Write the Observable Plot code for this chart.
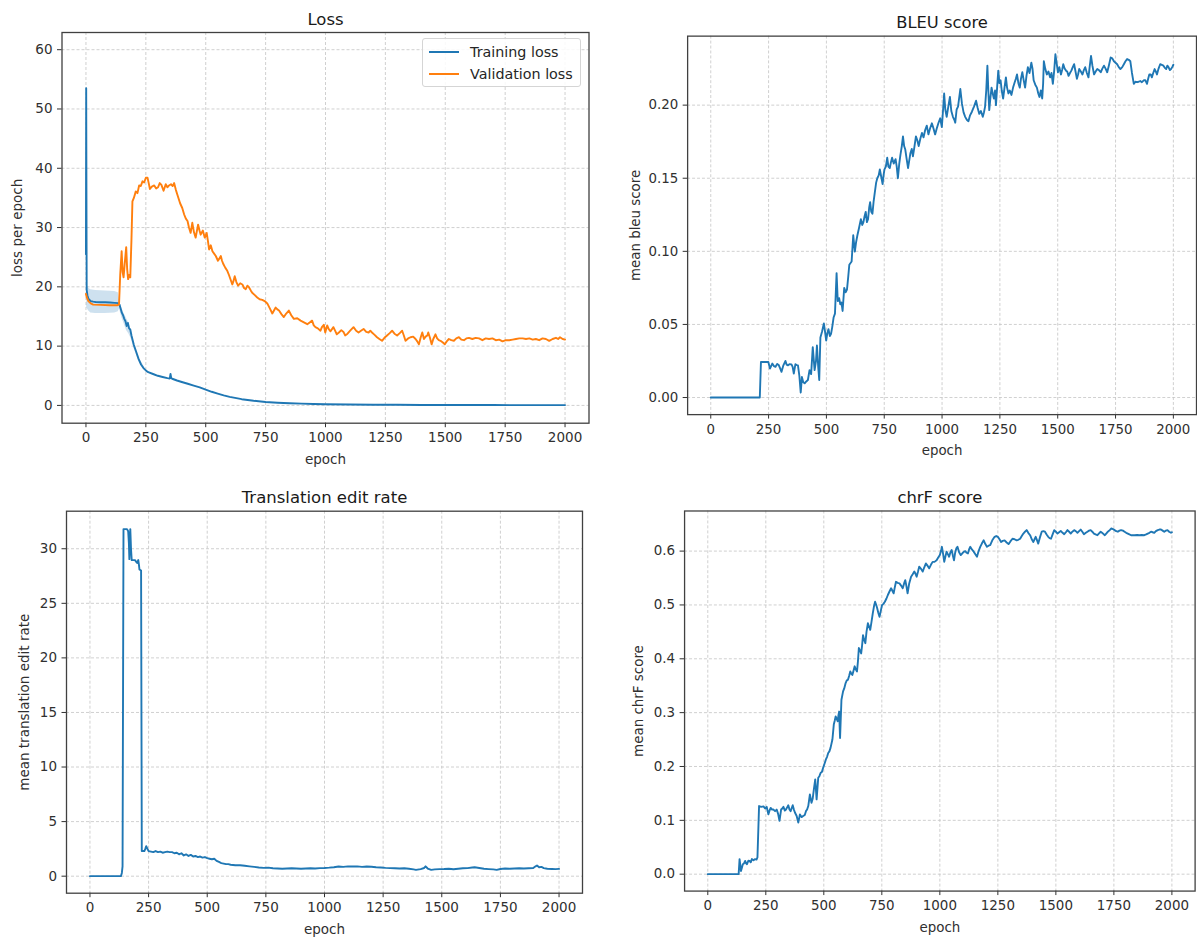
<!DOCTYPE html>
<html>
<head>
<meta charset="utf-8">
<script src="https://cdn.jsdelivr.net/npm/d3@7"></script>
<script src="https://cdn.jsdelivr.net/npm/@observablehq/plot@0.6"></script>
<style>
  body { margin: 0; background: #fff; }
  #chart { position: relative; width: 1197px; height: 938px; overflow: hidden; background: #fff; font-family: "DejaVu Sans", sans-serif; }
  .cell { position: absolute; overflow: hidden; }
  .legend { position: absolute; left: 422px; top: 38px; width: 159px; height: 49px; box-sizing: border-box;
            border: 1px solid #d5d5d5; border-radius: 3px; background: rgba(255,255,255,0.85); font-size: 14.3px; color: #262626; }
  .legend .row { position: absolute; left: 6px; height: 20px; display: flex; align-items: center; }
  .legend .sw { width: 30px; height: 0; border-top: 2px solid; margin-right: 11px; }
</style>
</head>
<body>
<div id="chart"></div>
<script>
// ---------------- data ----------------
const epochTicks = [0, 250, 500, 750, 1000, 1250, 1500, 1750, 2000];
const lossTicks = [0, 10, 20, 30, 40, 50, 60];
const bleuTicks = [0, 0.05, 0.10, 0.15, 0.20];
const terTicks = [0, 5, 10, 15, 20, 25, 30];
const chrfTicks = [0, 0.1, 0.2, 0.3, 0.4, 0.5, 0.6];

const panelTitles = ["Loss", "BLEU score", "Translation edit rate", "chrF score"];
const yLabels = ["loss per epoch", "mean bleu score", "mean translation edit rate", "mean chrF score"];
const xLabel = "epoch";
const seriesNames = ["Training loss", "Validation loss"];

// [epoch, loss]
const trainingLoss = [[0,25.5],[1,53.5],[3,19.5],[6,18.6],[10,18.0],[15,17.8],[20,17.6],[30,17.5],[40,17.45],[60,17.4],[80,17.4],[100,17.35],[120,17.3],[135,17.25],[140,17.0],[145,16.3],[150,15.6],[155,15.2],[160,14.6],[165,14.2],[170,13.4],[175,13.9],[180,13.0],[185,12.8],[190,11.8],[195,11.0],[200,10.2],[210,9.0],[220,7.8],[230,6.9],[240,6.3],[250,5.9],[260,5.6],[280,5.3],[300,5.0],[320,4.8],[340,4.6],[350,4.55],[353,5.3],[356,4.6],[360,4.5],[380,4.2],[400,3.95],[425,3.65],[450,3.35],[475,3.05],[500,2.65],[525,2.3],[550,2.0],[575,1.7],[600,1.45],[650,1.05],[700,0.78],[750,0.58],[800,0.45],[850,0.36],[900,0.3],[950,0.25],[1000,0.2],[1100,0.15],[1200,0.12],[1300,0.1],[1400,0.08],[1500,0.07],[1600,0.06],[1700,0.06],[1800,0.05],[1900,0.05],[2000,0.05]];
// [epoch, low, high] spread of the training loss
const trainingBand = [[3,16.5,20.5],[10,16.0,19.8],[20,15.6,19.5],[40,15.5,19.4],[80,15.5,19.3],[120,15.6,19.2],[135,15.8,19.0],[140,16.3,17.6],[150,14.8,16.4],[160,13.7,15.4],[170,12.6,14.6],[180,12.0,13.8],[190,11.1,12.4],[200,9.7,10.6],[220,7.5,8.1],[250,5.7,6.1]];
const validationLoss = [[0,18.8],[3,18.3],[10,17.6],[20,17.2],[30,17.0],[60,16.95],[100,16.9],[130,16.9],[138,17.0],[143,22],[149,26],[153,22.5],[157,21.6],[162,24],[168,26.7],[172,23],[176,21.3],[181,22],[185,21.6],[190,28],[194,34.4],[200,35],[208,36.1],[215,35.8],[222,37.1],[229,37.0],[236,37.8],[243,37.6],[250,38.4],[257,38.4],[262,37.5],[267,36.5],[275,36.9],[285,37.1],[293,36.6],[301,36.8],[308,37.5],[315,37.2],[324,36.2],[333,37.3],[340,36.8],[347,37.1],[355,37.3],[362,37.0],[368,37.5],[375,36.4],[382,35.5],[393,34.1],[402,33.3],[410,32.2],[417,31.5],[424,31.1],[430,30.0],[437,29.1],[444,30.8],[451,29.2],[458,28.3],[468,30.5],[474,29.5],[479,28.8],[488,29.5],[496,28.3],[504,29.1],[509,27.8],[514,26.3],[521,27.0],[528,26.0],[535,25.6],[542,25.2],[551,24.4],[557,24.8],[563,25.2],[568,24.4],[574,23.8],[582,23.2],[590,22.7],[597,22.0],[604,21.2],[611,20.4],[616,21.0],[621,21.8],[628,20.8],[635,20.2],[644,20.6],[653,20.4],[660,19.8],[667,19.6],[674,20.2],[681,19.9],[688,19.4],[694,19.0],[705,18.6],[715,18.2],[725,17.9],[736,17.8],[746,17.6],[757,17.2],[767,16.4],[778,15.5],[785,16.0],[792,16.5],[799,16.2],[806,16.0],[816,15.4],[826,14.9],[836,15.5],[847,16.0],[857,15.2],[868,14.6],[882,14.7],[896,14.3],[910,14.0],[924,13.7],[934,14.0],[944,14.3],[951,13.5],[958,13.2],[968,13.0],[979,12.6],[985,13.2],[993,13.6],[999,12.3],[1007,13.5],[1013,12.9],[1021,12.5],[1033,13.2],[1040,12.6],[1047,12.0],[1056,12.3],[1066,12.7],[1075,12.4],[1082,11.8],[1092,12.1],[1103,12.6],[1110,12.9],[1117,13.2],[1128,12.6],[1138,12.3],[1148,12.6],[1159,12.9],[1170,12.4],[1180,12.3],[1187,12.6],[1194,12.3],[1205,11.9],[1215,11.5],[1225,11.2],[1236,10.9],[1246,11.4],[1257,11.8],[1268,12.2],[1278,12.6],[1288,12.1],[1299,11.8],[1310,12.2],[1320,12.6],[1327,11.8],[1334,10.9],[1345,11.3],[1355,11.5],[1366,11.6],[1376,11.2],[1383,10.8],[1390,10.3],[1397,11.4],[1404,12.3],[1411,11.2],[1418,11.6],[1425,11.8],[1429,12.3],[1436,11.4],[1443,10.3],[1450,11.2],[1459,12.0],[1466,11.3],[1473,11.0],[1480,10.9],[1490,10.6],[1498,10.3],[1506,10.8],[1515,11.2],[1525,11.0],[1536,10.9],[1546,11.3],[1557,11.5],[1567,11.1],[1578,11.0],[1588,11.3],[1599,11.4],[1613,11.2],[1627,11.4],[1641,11.3],[1655,11.0],[1669,11.3],[1683,11.2],[1697,11.3],[1711,11.0],[1725,11.1],[1739,10.8],[1753,11.0],[1767,11.0],[1781,11.1],[1795,11.2],[1809,11.3],[1823,11.3],[1837,11.2],[1851,11.3],[1865,11.1],[1878,11.2],[1892,11.0],[1906,11.3],[1920,11.2],[1934,10.9],[1948,11.2],[1962,11.4],[1971,11.2],[1979,11.5],[1990,11.2],[2000,11.1]];

// [epoch, mean BLEU]
const bleu = [[0,0],[212,0],[217,0.0243],[249,0.0243],[256,0.0198],[266,0.0232],[273,0.0215],[280,0.021],[287,0.023],[294,0.0222],[300,0.02],[306,0.0176],[314,0.022],[323,0.025],[328,0.0225],[334,0.022],[340,0.0228],[349,0.0227],[354,0.021],[359,0.0164],[366,0.0228],[372,0.0222],[377,0.022],[383,0.015],[389,0.0034],[394,0.014],[400,0.0105],[406,0.0097],[413,0.011],[420,0.012],[427,0.0187],[434,0.016],[441,0.0345],[449,0.0187],[455,0.025],[459,0.0356],[465,0.02],[469,0.012],[474,0.041],[481,0.045],[489,0.0507],[494,0.045],[499,0.039],[504,0.044],[509,0.0468],[515,0.042],[520,0.0435],[525,0.048],[531,0.0547],[537,0.0574],[544,0.0851],[549,0.066],[555,0.068],[560,0.0637],[565,0.065],[570,0.0592],[577,0.075],[583,0.072],[589,0.0739],[594,0.082],[599,0.0908],[609,0.093],[616,0.111],[623,0.0998],[628,0.106],[634,0.111],[641,0.116],[649,0.122],[655,0.118],[660,0.12],[665,0.124],[670,0.127],[675,0.12],[680,0.122],[685,0.13],[689,0.1336],[694,0.127],[699,0.1257],[704,0.134],[709,0.14],[715,0.147],[720,0.15],[726,0.152],[731,0.156],[737,0.151],[743,0.146],[747,0.152],[751,0.156],[757,0.158],[763,0.164],[768,0.158],[774,0.157],[779,0.161],[784,0.164],[791,0.16],[799,0.163],[804,0.158],[809,0.150],[815,0.16],[820,0.166],[826,0.172],[831,0.1786],[836,0.172],[841,0.1696],[847,0.163],[853,0.157],[858,0.162],[863,0.167],[869,0.17],[874,0.165],[880,0.171],[887,0.1786],[893,0.176],[899,0.172],[906,0.177],[913,0.181],[920,0.178],[927,0.183],[934,0.186],[941,0.18],[948,0.184],[956,0.1876],[963,0.184],[970,0.18],[977,0.184],[984,0.1876],[992,0.191],[999,0.185],[1004,0.196],[1009,0.208],[1014,0.197],[1020,0.192],[1027,0.199],[1034,0.2056],[1040,0.196],[1047,0.192],[1053,0.19],[1057,0.188],[1063,0.197],[1069,0.199],[1074,0.205],[1079,0.211],[1086,0.201],[1093,0.195],[1100,0.192],[1107,0.19],[1114,0.189],[1121,0.193],[1129,0.1955],[1138,0.199],[1147,0.203],[1154,0.198],[1161,0.194],[1168,0.196],[1176,0.192],[1181,0.195],[1186,0.199],[1191,0.21],[1196,0.227],[1200,0.21],[1204,0.1966],[1209,0.205],[1214,0.212],[1219,0.208],[1224,0.2045],[1229,0.21],[1233,0.20],[1238,0.212],[1243,0.2236],[1248,0.215],[1253,0.217],[1258,0.21],[1264,0.2045],[1270,0.212],[1276,0.219],[1281,0.212],[1287,0.208],[1293,0.21],[1300,0.207],[1307,0.212],[1314,0.2157],[1319,0.218],[1324,0.221],[1330,0.215],[1336,0.212],[1341,0.218],[1347,0.2225],[1353,0.217],[1359,0.212],[1365,0.22],[1371,0.226],[1378,0.222],[1386,0.229],[1391,0.225],[1396,0.217],[1403,0.214],[1410,0.212],[1416,0.208],[1421,0.2056],[1427,0.21],[1433,0.2045],[1437,0.215],[1440,0.230],[1446,0.225],[1453,0.221],[1460,0.223],[1467,0.219],[1473,0.222],[1479,0.2146],[1485,0.224],[1490,0.2348],[1496,0.228],[1501,0.2225],[1507,0.226],[1514,0.221],[1519,0.224],[1524,0.228],[1530,0.225],[1536,0.2236],[1541,0.223],[1547,0.220],[1553,0.222],[1559,0.2236],[1565,0.226],[1571,0.228],[1577,0.223],[1583,0.218],[1588,0.221],[1593,0.2247],[1600,0.223],[1607,0.221],[1613,0.224],[1619,0.226],[1626,0.222],[1633,0.219],[1638,0.226],[1644,0.2337],[1650,0.227],[1657,0.221],[1664,0.223],[1671,0.2247],[1678,0.224],[1686,0.2225],[1693,0.225],[1700,0.227],[1707,0.225],[1714,0.2225],[1721,0.227],[1729,0.2326],[1736,0.232],[1743,0.230],[1750,0.229],[1757,0.228],[1764,0.226],[1771,0.2247],[1779,0.226],[1786,0.228],[1793,0.23],[1800,0.2315],[1807,0.231],[1814,0.230],[1821,0.222],[1829,0.2146],[1836,0.216],[1843,0.2157],[1850,0.216],[1857,0.2165],[1864,0.2157],[1872,0.217],[1879,0.217],[1886,0.2146],[1891,0.218],[1896,0.221],[1902,0.221],[1907,0.219],[1913,0.222],[1919,0.2247],[1924,0.223],[1929,0.221],[1936,0.225],[1943,0.228],[1950,0.2275],[1957,0.227],[1963,0.2255],[1969,0.2247],[1974,0.227],[1979,0.226],[1985,0.224],[1990,0.2247],[1995,0.226],[2000,0.2276]];

// [epoch, mean TER]
const ter = [[0,0],[132,0],[136,0.3],[139,0.9],[143,31.8],[158,31.8],[163,31.6],[166,30.5],[168,29.05],[170,30.8],[172,31.8],[175,30],[178,28.96],[192,28.96],[197,28.8],[201,28.7],[206,28.96],[209,28.5],[211,28.1],[218,28.0],[221,2.3],[232,2.3],[236,2.5],[240,2.75],[245,2.5],[250,2.3],[260,2.25],[270,2.2],[280,2.3],[290,2.2],[300,2.25],[310,2.15],[320,2.2],[330,2.25],[340,2.2],[350,2.2],[360,2.1],[370,2.15],[380,2.0],[390,2.1],[400,1.9],[410,2.0],[420,1.85],[430,1.95],[440,1.8],[450,1.85],[460,1.75],[470,1.8],[480,1.7],[490,1.75],[500,1.65],[510,1.6],[520,1.55],[530,1.6],[540,1.4],[550,1.3],[560,1.2],[570,1.15],[580,1.1],[590,1.1],[600,1.05],[620,1.0],[640,1.0],[660,0.95],[680,0.9],[700,0.85],[720,0.8],[740,0.76],[760,0.78],[780,0.72],[800,0.7],[820,0.68],[840,0.7],[860,0.72],[880,0.7],[900,0.68],[920,0.7],[940,0.72],[960,0.7],[980,0.74],[1000,0.75],[1020,0.78],[1040,0.82],[1060,0.89],[1080,0.85],[1100,0.9],[1120,0.88],[1140,0.9],[1160,0.85],[1180,0.88],[1200,0.86],[1220,0.82],[1240,0.8],[1260,0.76],[1280,0.74],[1300,0.72],[1320,0.7],[1340,0.72],[1360,0.68],[1380,0.62],[1390,0.58],[1410,0.65],[1425,0.75],[1431,0.9],[1440,0.7],[1455,0.58],[1470,0.62],[1490,0.65],[1510,0.66],[1530,0.68],[1550,0.64],[1570,0.68],[1590,0.72],[1610,0.74],[1630,0.8],[1640,0.82],[1660,0.75],[1680,0.68],[1700,0.65],[1720,0.62],[1734,0.58],[1750,0.66],[1770,0.7],[1790,0.68],[1810,0.7],[1830,0.72],[1850,0.7],[1870,0.72],[1890,0.74],[1900,0.9],[1906,0.98],[1915,0.82],[1925,0.85],[1935,0.74],[1950,0.68],[1970,0.66],[1985,0.65],[2000,0.67]];

// [epoch, mean chrF]
const chrf = [[0,0],[133,0],[137,0.028],[143,0.006],[147,0.012],[151,0.0185],[156,0.02],[161,0.0247],[165,0.02],[169,0.0185],[175,0.025],[180,0.0247],[185,0.022],[190,0.028],[197,0.026],[204,0.028],[210,0.027],[214,0.031],[221,0.1265],[230,0.125],[240,0.126],[247,0.122],[254,0.125],[261,0.111],[266,0.118],[271,0.123],[277,0.12],[283,0.12],[290,0.117],[297,0.12],[303,0.112],[309,0.099],[316,0.12],[321,0.122],[326,0.125],[332,0.118],[337,0.12],[342,0.124],[347,0.128],[352,0.12],[357,0.117],[361,0.122],[366,0.128],[371,0.12],[376,0.114],[383,0.108],[390,0.0957],[397,0.111],[404,0.106],[411,0.108],[418,0.11],[423,0.117],[428,0.12],[433,0.1265],[440,0.148],[447,0.1327],[452,0.14],[457,0.157],[463,0.176],[469,0.139],[476,0.179],[481,0.182],[486,0.188],[492,0.19],[497,0.1975],[503,0.205],[509,0.213],[514,0.218],[519,0.225],[524,0.228],[529,0.2346],[537,0.25],[543,0.2778],[547,0.285],[551,0.293],[556,0.288],[560,0.284],[563,0.295],[566,0.302],[570,0.253],[576,0.324],[583,0.3395],[588,0.345],[594,0.355],[599,0.36],[604,0.361],[609,0.368],[614,0.3765],[619,0.372],[623,0.370],[628,0.378],[633,0.386],[638,0.38],[643,0.3765],[647,0.395],[651,0.42],[656,0.415],[661,0.41],[665,0.425],[669,0.444],[674,0.435],[679,0.429],[684,0.45],[690,0.466],[695,0.46],[700,0.4537],[706,0.47],[711,0.4845],[716,0.497],[721,0.506],[726,0.5],[730,0.494],[735,0.485],[740,0.478],[746,0.49],[751,0.5],[757,0.502],[763,0.506],[770,0.512],[776,0.5185],[783,0.525],[790,0.531],[796,0.526],[801,0.5216],[806,0.533],[811,0.543],[818,0.541],[826,0.540],[833,0.536],[840,0.531],[846,0.54],[851,0.546],[856,0.535],[861,0.5216],[868,0.54],[876,0.5525],[883,0.557],[890,0.562],[895,0.558],[900,0.5525],[906,0.562],[911,0.571],[919,0.567],[926,0.562],[933,0.57],[940,0.577],[947,0.573],[954,0.568],[962,0.575],[969,0.580],[977,0.58],[986,0.583],[993,0.588],[1000,0.5926],[1005,0.60],[1009,0.608],[1014,0.595],[1019,0.580],[1024,0.59],[1029,0.599],[1035,0.594],[1040,0.5895],[1045,0.597],[1051,0.602],[1056,0.592],[1061,0.583],[1066,0.597],[1071,0.605],[1076,0.608],[1083,0.598],[1090,0.5926],[1097,0.596],[1104,0.599],[1110,0.6],[1115,0.597],[1121,0.5957],[1126,0.603],[1131,0.608],[1138,0.603],[1146,0.599],[1153,0.594],[1160,0.5895],[1167,0.6],[1174,0.608],[1181,0.614],[1189,0.620],[1196,0.613],[1203,0.608],[1210,0.61],[1217,0.611],[1226,0.62],[1236,0.6265],[1243,0.628],[1250,0.6265],[1257,0.622],[1264,0.617],[1271,0.619],[1279,0.620],[1288,0.616],[1296,0.613],[1304,0.618],[1313,0.623],[1322,0.622],[1331,0.620],[1338,0.621],[1346,0.623],[1353,0.628],[1360,0.6326],[1367,0.636],[1374,0.639],[1381,0.634],[1389,0.6295],[1396,0.622],[1403,0.617],[1408,0.622],[1413,0.6265],[1419,0.62],[1424,0.614],[1431,0.625],[1439,0.636],[1446,0.637],[1453,0.636],[1460,0.631],[1467,0.6265],[1473,0.624],[1479,0.623],[1486,0.631],[1493,0.639],[1500,0.636],[1507,0.6326],[1514,0.635],[1521,0.6375],[1529,0.634],[1536,0.6314],[1543,0.635],[1550,0.639],[1557,0.636],[1564,0.6326],[1571,0.636],[1579,0.639],[1586,0.637],[1593,0.634],[1600,0.637],[1607,0.640],[1614,0.636],[1621,0.6314],[1629,0.634],[1636,0.636],[1643,0.638],[1650,0.639],[1657,0.636],[1664,0.6326],[1671,0.631],[1679,0.6295],[1686,0.633],[1693,0.636],[1702,0.633],[1711,0.6295],[1718,0.633],[1724,0.636],[1732,0.639],[1739,0.642],[1746,0.641],[1753,0.639],[1760,0.637],[1767,0.636],[1774,0.638],[1781,0.639],[1789,0.638],[1796,0.636],[1803,0.634],[1810,0.6326],[1817,0.631],[1824,0.6295],[1839,0.6295],[1850,0.63],[1860,0.6295],[1870,0.63],[1881,0.6295],[1889,0.631],[1896,0.6326],[1903,0.634],[1910,0.636],[1917,0.635],[1924,0.634],[1931,0.637],[1939,0.639],[1946,0.64],[1953,0.640],[1960,0.638],[1967,0.636],[1974,0.638],[1981,0.639],[1988,0.636],[1996,0.634],[2000,0.635]];

// ---------------- drawing ----------------
const BLUE = "#1f77b4", ORANGE = "#ff7f0e";
const chart = document.getElementById("chart");

function panel(cfg) {
  const gridStyle = {stroke: "#c4c4c4", strokeOpacity: 1, strokeWidth: 0.8, strokeDasharray: "3,2"};
  const marks = [
    Plot.gridX(epochTicks, gridStyle),
    Plot.gridY(cfg.yTicks, gridStyle)
  ];
  if (cfg.band) marks.push(Plot.areaY(cfg.band, {x: d => d[0], y1: d => d[1], y2: d => d[2], fill: BLUE, fillOpacity: 0.22, curve: "linear"}));
  for (const s of cfg.series) marks.push(Plot.line(s.data, {x: d => d[0], y: d => d[1], stroke: s.color, strokeWidth: 1.9, strokeLinejoin: "round"}));
  marks.push(
    Plot.axisX(epochTicks, {tickSize: 4.5, tickPadding: 5, tickFormat: d3.format("d"), label: xLabel, labelArrow: "none", labelAnchor: "center", labelOffset: 41, fontSize: 13.5}),
    Plot.axisY(cfg.yTicks, {tickSize: 4.5, tickPadding: 5, tickFormat: cfg.yFormat, label: cfg.yLabel, labelArrow: "none", labelAnchor: "center", labelOffset: cfg.labelOffset, fontSize: 13.5}),
    Plot.frame({stroke: "#404040", strokeWidth: 1.3}),
    Plot.text([cfg.title], {frameAnchor: "top", lineAnchor: "bottom", dy: -8, fontSize: 16.5, fill: "#1a1a1a"})
  );
  const svg = Plot.plot({
    width: cfg.width, height: cfg.height,
    marginLeft: cfg.ml, marginRight: cfg.mr, marginTop: cfg.mt, marginBottom: cfg.mb,
    style: {fontFamily: "DejaVu Sans", fontSize: "13.5px", color: "#303030", background: "transparent", overflow: "visible"},
    x: {domain: [-100, 2100]},
    y: {domain: cfg.yDomain},
    marks
  });
  const cell = document.createElement("div");
  cell.className = "cell";
  cell.style.left = cfg.left + "px";
  cell.style.top = cfg.top + "px";
  cell.style.width = cfg.clipW + "px";
  cell.style.height = cfg.height + "px";
  cell.appendChild(svg);
  chart.appendChild(cell);
}

panel({left: 0, top: 0, width: 598, clipW: 598, height: 470, ml: 61.5, mr: 9.5, mt: 32, mb: 47.3,
  yDomain: [-3.0, 62.9], yTicks: lossTicks, yFormat: d3.format("d"), yLabel: yLabels[0], labelOffset: 50, title: panelTitles[0],
  band: trainingBand,
  series: [{data: trainingLoss, color: BLUE}, {data: validationLoss, color: ORANGE}]});

panel({left: 600, top: 0, width: 603, clipW: 597, height: 470, ml: 88, mr: 1, mt: 36, mb: 51.7,
  yDomain: [-0.0117, 0.2472], yTicks: bleuTicks, yFormat: d3.format(".2f"), yLabel: yLabels[1], labelOffset: 58, title: panelTitles[1],
  series: [{data: bleu, color: BLUE}]});

panel({left: 0, top: 470, width: 598, clipW: 598, height: 468, ml: 66, mr: 16, mt: 40.7, mb: 45.3,
  yDomain: [-1.56, 33.44], yTicks: terTicks, yFormat: d3.format("d"), yLabel: yLabels[2], labelOffset: 47, title: panelTitles[2],
  series: [{data: ter, color: BLUE}]});

panel({left: 600, top: 470, width: 600, clipW: 597, height: 468, ml: 84.5, mr: 2.4, mt: 40.7, mb: 45.3,
  yDomain: [-0.0314, 0.6745], yTicks: chrfTicks, yFormat: d3.format(".1f"), yLabel: yLabels[3], labelOffset: 51, title: panelTitles[3],
  series: [{data: chrf, color: BLUE}]});

// legend for the loss panel
const legend = document.createElement("div");
legend.className = "legend";
[[seriesNames[0], BLUE], [seriesNames[1], ORANGE]].forEach(([name, color], i) => {
  const row = document.createElement("div");
  row.className = "row";
  row.style.top = (3 + i * 22) + "px";
  const sw = document.createElement("span");
  sw.className = "sw";
  sw.style.borderColor = color;
  const label = document.createElement("span");
  label.textContent = name;
  row.appendChild(sw);
  row.appendChild(label);
  legend.appendChild(row);
});
chart.appendChild(legend);
</script>
</body>
</html>
